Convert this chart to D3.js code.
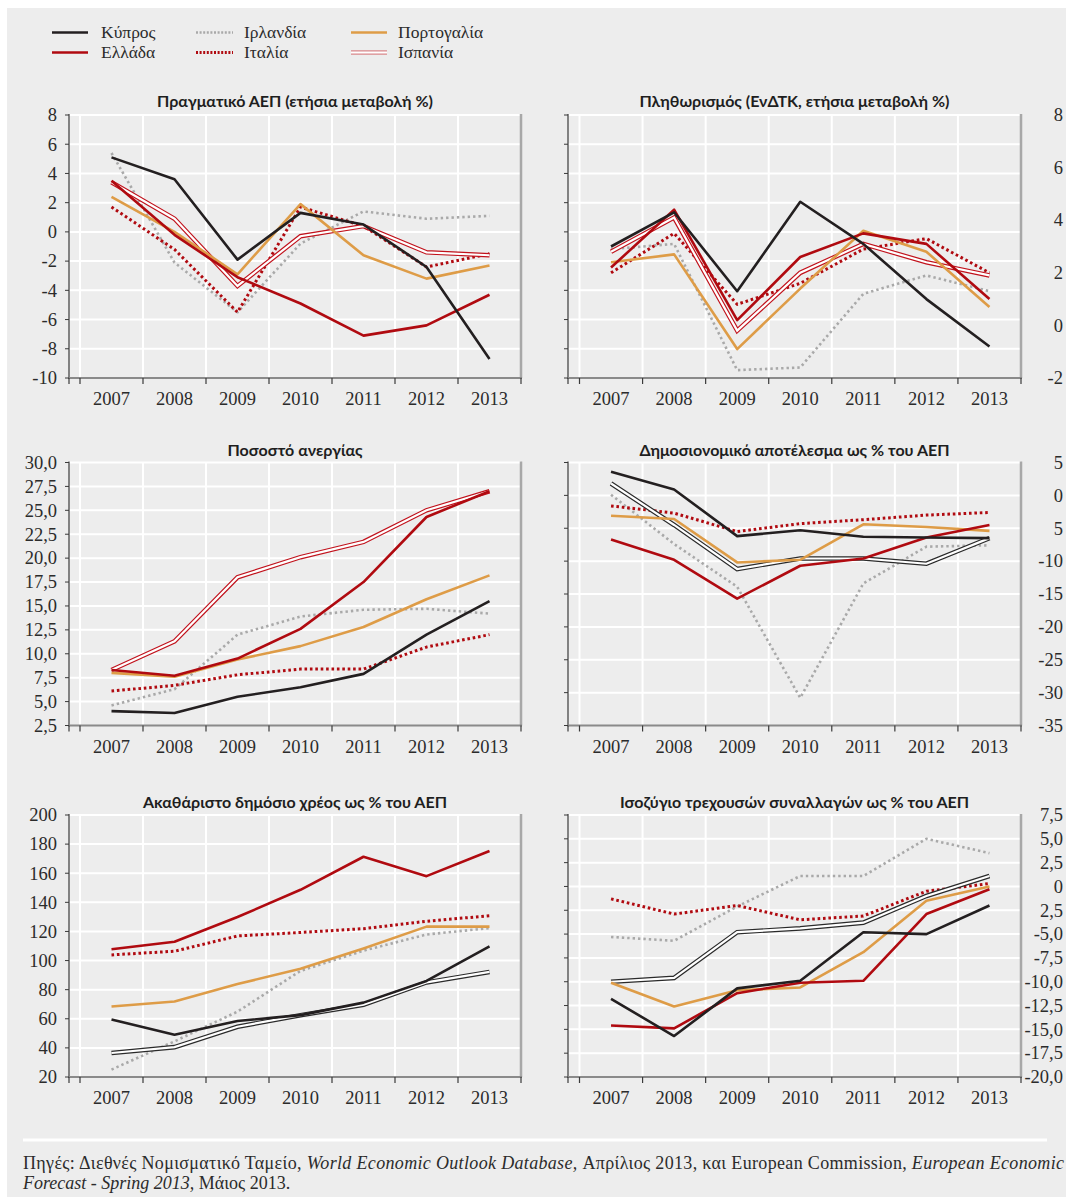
<!DOCTYPE html>
<html><head><meta charset="utf-8">
<script src="https://cdn.jsdelivr.net/npm/d3@7/dist/d3.min.js"></script>
<style>body{margin:0;background:#fff;} svg{display:block}</style>
</head><body>
<svg id="c" width="1070" height="1197"></svg>
<script>
// ---------------- DATA ----------------
const years = ["2007","2008","2009","2010","2011","2012","2013"];
const countries = ["Κύπρος","Ελλάδα","Ιρλανδία","Ιταλία","Πορτογαλία","Ισπανία"];

// values per country, in the order of `countries`
const gdpValues = [
  [5.1, 3.6, -1.9, 1.3, 0.5, -2.4, -8.7],
  [3.5, -0.2, -3.1, -4.9, -7.1, -6.4, -4.3],
  [5.4, -2.1, -5.5, -0.8, 1.4, 0.9, 1.1],
  [1.7, -1.2, -5.5, 1.7, 0.4, -2.4, -1.5],
  [2.4, 0.0, -2.9, 1.9, -1.6, -3.2, -2.3],
  [3.4, 0.9, -3.7, -0.3, 0.4, -1.4, -1.6]
];
const inflationValues = [
  [3.0, 4.3, 1.3, 4.7, 3.1, 1.0, -0.8],
  [2.2, 4.4, 0.2, 2.6, 3.5, 3.1, 1.0],
  [2.9, 3.1, -1.7, -1.6, 1.2, 1.9, 1.3],
  [2.0, 3.5, 0.8, 1.6, 2.9, 3.3, 2.0],
  [2.4, 2.7, -0.9, 1.4, 3.6, 2.8, 0.7],
  [2.8, 4.1, -0.2, 2.0, 3.1, 2.4, 1.9]
];
const unemploymentValues = [
  [4.0, 3.8, 5.5, 6.5, 7.9, 12.0, 15.5],
  [8.3, 7.7, 9.5, 12.6, 17.5, 24.3, 27.0],
  [4.6, 6.3, 12.0, 13.9, 14.6, 14.7, 14.2],
  [6.1, 6.7, 7.8, 8.4, 8.4, 10.7, 12.0],
  [8.0, 7.6, 9.4, 10.8, 12.8, 15.7, 18.2],
  [8.3, 11.3, 18.0, 20.1, 21.7, 25.0, 27.0]
];
const fiscalValues = [
  [3.6, 0.9, -6.2, -5.3, -6.3, -6.4, -6.5],
  [-6.7, -9.8, -15.7, -10.7, -9.6, -6.4, -4.5],
  [0.1, -7.4, -13.9, -30.8, -13.4, -7.8, -7.6],
  [-1.6, -2.7, -5.5, -4.3, -3.7, -3.0, -2.6],
  [-3.1, -3.6, -10.2, -9.8, -4.4, -4.8, -5.4],
  [1.8, -4.5, -11.2, -9.6, -9.6, -10.4, -6.5]
];
const debtValues = [
  [59.5, 49.0, 58.5, 62.5, 71.1, 86.0, 109.8],
  [107.8, 112.9, 129.9, 148.6, 171.3, 158.0, 175.3],
  [25.1, 44.5, 64.9, 92.9, 106.8, 117.9, 122.3],
  [103.9, 106.4, 116.9, 119.3, 121.9, 127.0, 130.8],
  [68.4, 71.9, 83.9, 94.3, 108.3, 123.3, 123.3],
  [36.5, 40.5, 54.5, 62.5, 69.7, 85.0, 92.2]
];
const currentAccountValues = [
  [-11.8, -15.7, -10.7, -9.9, -4.8, -5.0, -2.0],
  [-14.6, -14.9, -11.2, -10.1, -9.9, -2.9, -0.3],
  [-5.3, -5.7, -2.1, 1.1, 1.1, 5.0, 3.5],
  [-1.3, -2.9, -2.0, -3.5, -3.1, -0.5, 0.3],
  [-10.1, -12.6, -10.9, -10.6, -6.9, -1.5, 0.0],
  [-10.0, -9.6, -4.8, -4.4, -3.8, -1.0, 1.1]
];

// tick values and their labels (as printed)
const gdpTicks = [8, 6, 4, 2, 0, -2, -4, -6, -8, -10];
const gdpTickLabels = ["8","6","4","2","0","-2","-4","-6","-8","-10"];
const inflationTicks = [8, 6, 4, 2, 0, -2];
const inflationTickLabels = ["8","6","4","2","0","-2"];
const unemploymentTicks = [30, 27.5, 25, 22.5, 20, 17.5, 15, 12.5, 10, 7.5, 5, 2.5];
const unemploymentTickLabels = ["30,0","27,5","25,0","22,5","20,0","17,5","15,0","12,5","10,0","7,5","5,0","2,5"];
const fiscalTicks = [5, 0, -5, -10, -15, -20, -25, -30, -35];
const fiscalTickLabels = ["5","0","5","-10","-15","-20","-25","-30","-35"];
const debtTicks = [200, 180, 160, 140, 120, 100, 80, 60, 40, 20];
const debtTickLabels = ["200","180","160","140","120","100","80","60","40","20"];
const currentAccountTicks = [7.5, 5, 2.5, 0, -2.5, -5, -7.5, -10, -12.5, -15, -17.5, -20];
const currentAccountTickLabels = ["7,5","5,0","2,5","0","2,5","-5,0","-7,5","-10,0","-12,5","-15,0","-17,5","-20,0"];

const titles = [
  "Πραγματικό ΑΕΠ (ετήσια μεταβολή %)",
  "Πληθωρισμός (ΕνΔΤΚ, ετήσια μεταβολή %)",
  "Ποσοστό ανεργίας",
  "Δημοσιονομικό αποτέλεσμα ως % του ΑΕΠ",
  "Ακαθάριστο δημόσιο χρέος ως % του ΑΕΠ",
  "Ισοζύγιο τρεχουσών συναλλαγών ως % του ΑΕΠ"
];

// ---------------- LAYOUT / STYLE ----------------
const svg = d3.select("#c");
const BG = "#ededed";
svg.append("rect").attr("x", 7).attr("y", 8).attr("width", 1059).attr("height", 1189).attr("fill", BG);

const cols = [
  {axisX: 69, bandStart: 80, bandEnd: 521, labelX: 57, anchor: "end"},
  {axisX: 568, bandStart: 579.5, bandEnd: 1021, labelX: 1063, anchor: "end"}
];
const rows = [
  {top: 115, bottom: 378, titleY: 107},
  {top: 462.5, bottom: 725.5, titleY: 456},
  {top: 815, bottom: 1077, titleY: 808}
];

const panels = [
  {title: titles[0], values: gdpValues, ticks: gdpTicks, labels: gdpTickLabels, col: 0, row: 0, spain: "#c1121c"},
  {title: titles[1], values: inflationValues, ticks: inflationTicks, labels: inflationTickLabels, col: 1, row: 0, gridCount: 9, spain: "#c1121c"},
  {title: titles[2], values: unemploymentValues, ticks: unemploymentTicks, labels: unemploymentTickLabels, col: 0, row: 1, spain: "#c1121c"},
  {title: titles[3], values: fiscalValues, ticks: fiscalTicks, labels: fiscalTickLabels, col: 1, row: 1, spain: "#2a2a2a"},
  {title: titles[4], values: debtValues, ticks: debtTicks, labels: debtTickLabels, col: 0, row: 2, spain: "#2a2a2a"},
  {title: titles[5], values: currentAccountValues, ticks: currentAccountTicks, labels: currentAccountTickLabels, col: 1, row: 2, spain: "#2a2a2a"}
];

const styles = {
  "Κύπρος":     {color: "#231f20", width: 2.6},
  "Ελλάδα":     {color: "#b00a10", width: 2.6},
  "Ιρλανδία":   {color: "#a9a9a9", width: 2.6, dash: "2.4,3"},
  "Ιταλία":     {color: "#b00a10", width: 3, dash: "2.6,2.8"},
  "Πορτογαλία": {color: "#de9c47", width: 2.6},
  "Ισπανία":    {double: true}
};
const drawOrder = ["Ιρλανδία","Ιταλία","Ισπανία","Πορτογαλία","Ελλάδα","Κύπρος"];

const serif = "'Liberation Serif','Times New Roman',serif";
const sans = "Lato,'Open Sans',sans-serif";
const TEXT = "#2b2b2b";

panels.forEach(p => {
  const c = cols[p.col], r = rows[p.row];
  const x = d3.scaleBand().domain(years).range([c.bandStart, c.bandEnd]).paddingInner(0).paddingOuter(0);
  const y = d3.scaleLinear().domain(d3.extent(p.ticks)).range([r.bottom, r.top]);
  const g = svg.append("g");

  // horizontal gridlines
  let gridYs;
  if (p.gridCount) {
    const gs = d3.scaleLinear().domain([0, p.gridCount]).range([r.bottom, r.top]);
    gridYs = d3.range(0, p.gridCount + 1).map(i => gs(i));
  } else {
    gridYs = p.ticks.map(t => y(t));
  }
  g.selectAll(".hg").data(gridYs.filter(v => Math.abs(v - r.bottom) > 1)).enter().append("line")
    .attr("x1", c.axisX).attr("x2", c.bandEnd).attr("y1", d => d).attr("y2", d => d)
    .attr("stroke", "#fff").attr("stroke-width", 2);

  // vertical gridlines at category boundaries
  const bounds = years.map(yv => x(yv));
  g.selectAll(".vg").data(bounds).enter().append("line")
    .attr("x1", d => d).attr("x2", d => d).attr("y1", r.top).attr("y2", r.bottom)
    .attr("stroke", "#fff").attr("stroke-width", 2);

  // right edge
  g.append("line").attr("x1", c.bandEnd).attr("x2", c.bandEnd).attr("y1", r.top - 1).attr("y2", r.bottom)
    .attr("stroke", "#a8a8a8").attr("stroke-width", 2.5);

  // left axis + ticks
  g.append("line").attr("x1", c.axisX).attr("x2", c.axisX).attr("y1", r.top - 1).attr("y2", r.bottom + 1)
    .attr("stroke", "#3a3a3a").attr("stroke-width", 1.2);
  g.selectAll(".lt").data(gridYs).enter().append("line")
    .attr("x1", c.axisX - 4).attr("x2", c.axisX).attr("y1", d => d).attr("y2", d => d)
    .attr("stroke", "#3a3a3a").attr("stroke-width", 1);

  // bottom axis + ticks
  g.append("line").attr("x1", c.axisX).attr("x2", c.bandEnd + 1).attr("y1", r.bottom).attr("y2", r.bottom)
    .attr("stroke", "#8a8a8a").attr("stroke-width", 2);
  g.selectAll(".bt").data([c.axisX].concat(bounds).concat([c.bandEnd])).enter().append("line")
    .attr("x1", d => d).attr("x2", d => d).attr("y1", r.bottom).attr("y2", r.bottom + 6)
    .attr("stroke", "#3a3a3a").attr("stroke-width", 1.2);

  // y labels
  g.selectAll(".yl").data(p.ticks).enter().append("text")
    .attr("x", c.labelX).attr("y", d => y(d)).attr("dy", "0.34em")
    .attr("text-anchor", c.anchor)
    .attr("font-family", serif).attr("font-size", 18.5).attr("fill", TEXT)
    .text((d, i) => p.labels[i]);

  // x labels
  g.selectAll(".xl").data(years).enter().append("text")
    .attr("x", d => x(d) + x.bandwidth() / 2).attr("y", r.bottom + 27)
    .attr("text-anchor", "middle")
    .attr("font-family", serif).attr("font-size", 18.5).attr("fill", TEXT)
    .text(d => d);

  // title
  g.append("text").attr("x", (c.axisX + c.bandEnd) / 2).attr("y", r.titleY)
    .attr("text-anchor", "middle").attr("font-family", sans).attr("font-weight", 700)
    .attr("font-size", 16).attr("fill", "#1e1e1e").text(p.title);

  // series
  const line = d3.line().x((d, i) => x(years[i]) + x.bandwidth() / 2).y(d => y(d));
  drawOrder.forEach(name => {
    const idx = countries.indexOf(name);
    const vals = p.values[idx];
    const s = styles[name];
    if (s.double) {
      g.append("path").attr("d", line(vals)).attr("fill", "none")
        .attr("stroke", p.spain).attr("stroke-width", 4.6).attr("stroke-linejoin", "miter");
      g.append("path").attr("d", line(vals)).attr("fill", "none")
        .attr("stroke", "#fff").attr("stroke-width", 2.2).attr("stroke-linejoin", "miter");
    } else {
      g.append("path").attr("d", line(vals)).attr("fill", "none")
        .attr("stroke", s.color).attr("stroke-width", s.width)
        .attr("stroke-dasharray", s.dash || null)
        .attr("stroke-linejoin", "round");
    }
  });
});

// ---------------- LEGEND ----------------
const legendCols = [
  {x1: 52, x2: 88, tx: 101, items: ["Κύπρος", "Ελλάδα"]},
  {x1: 196, x2: 233, tx: 244, items: ["Ιρλανδία", "Ιταλία"]},
  {x1: 351, x2: 387, tx: 398, items: ["Πορτογαλία", "Ισπανία"]}
];
const legendRowY = [32.5, 52.5];
legendCols.forEach(lc => {
  lc.items.forEach((name, i) => {
    const yy = legendRowY[i];
    const s = styles[name];
    if (s.double) {
      svg.append("line").attr("x1", lc.x1).attr("x2", lc.x2).attr("y1", yy).attr("y2", yy)
        .attr("stroke", "#d9878a").attr("stroke-width", 4.6);
      svg.append("line").attr("x1", lc.x1).attr("x2", lc.x2).attr("y1", yy).attr("y2", yy)
        .attr("stroke", "#fff").attr("stroke-width", 2);
    } else {
      svg.append("line").attr("x1", lc.x1).attr("x2", lc.x2).attr("y1", yy).attr("y2", yy)
        .attr("stroke", s.color).attr("stroke-width", s.width)
        .attr("stroke-dasharray", s.dash ? "2,1.6" : null);
    }
    svg.append("text").attr("x", lc.tx).attr("y", yy).attr("dy", "0.33em")
      .attr("font-family", serif).attr("font-size", 17.5).attr("fill", TEXT).text(name);
  });
});

// ---------------- FOOTER ----------------
svg.append("line").attr("x1", 23).attr("x2", 1047).attr("y1", 1140).attr("y2", 1140)
  .attr("stroke", "#fff").attr("stroke-width", 3);
const f1 = svg.append("text").attr("x", 23).attr("y", 1169)
  .attr("font-family", serif).attr("font-size", 18).attr("fill", TEXT)
  .attr("textLength", 1041).attr("lengthAdjust", "spacing");
f1.append("tspan").text("Πηγές: Διεθνές Νομισματικό Ταμείο, ");
f1.append("tspan").attr("font-style", "italic").text("World Economic Outlook Database,");
f1.append("tspan").text(" Απρίλιος 2013, και European Commission, ");
f1.append("tspan").attr("font-style", "italic").text("European Economic");
const f2 = svg.append("text").attr("x", 23).attr("y", 1189)
  .attr("font-family", serif).attr("font-size", 18).attr("fill", TEXT);
f2.append("tspan").attr("font-style", "italic").text("Forecast - Spring 2013,");
f2.append("tspan").text(" Μάιος 2013.");
</script>
</body></html>
